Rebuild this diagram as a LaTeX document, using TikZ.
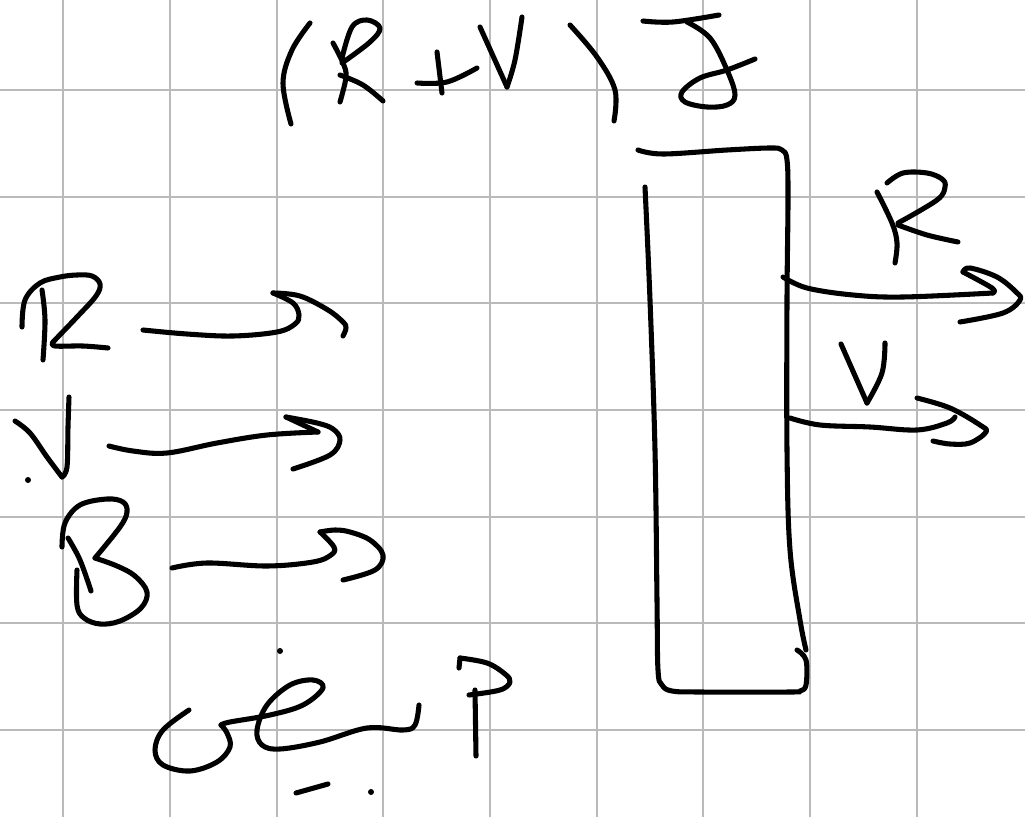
\documentclass[tikz,border=0pt]{standalone}
\begin{document}
\begin{tikzpicture}[x=0.75pt,y=-0.75pt,
  gridline/.style={draw=black!27,line width=1.8pt},
  ink/.style={draw=black,line width=3.8pt,line cap=round,line join=round,smooth,tension=0.6},
  speck/.style={fill=black,draw=none}]
\useasboundingbox (0,0) rectangle (1025,817);
\fill[white] (0,0) rectangle (1025,817);
\foreach \gx in {63,170,277,383,490,597,703,810,917} \draw[gridline] (\gx,0) -- (\gx,817);
\foreach \gy in {90,197,303,410,517,623,730} \draw[gridline] (0,\gy) -- (1025,\gy);
% left R
\draw[ink] plot coordinates {(22,327) (25,300) (40,283) (60,277) (77,275) (92,276) (100,284) (96,296) (77,317) (53,342)};
\draw[ink] plot coordinates {(53,342) (55,346) (83,346) (108,348)};
\draw[ink] plot coordinates {(42,290) (45,320) (43,360)};
% arrow R
\draw[ink] plot coordinates {(143,330) (187,334) (233,336) (277,332) (295,324) (299,315) (293,303) (273,293)};
\draw[ink] plot coordinates {(273,293) (300,296) (328,310) (343,322) (346,328) (343,336)};
% left V
\draw[ink] plot coordinates {(15,421) (30,433) (47,457) (62,477)};
\draw[ink] plot coordinates {(62,477) (67,467) (68,427) (69,397)};
\fill[speck] (28,480) circle (3);
% arrow V
\draw[ink] plot coordinates {(109,446) (133,451) (167,453) (217,443) (267,435) (318,432)};
\draw[ink] plot coordinates {(286,417) (317,423) (333,429) (340,440) (330,455) (293,469)};
\draw[ink] (286,417) -- (318,432);
% B
\draw[ink] plot coordinates {(62,547) (65,523) (80,505) (107,499) (123,502) (127,512) (120,527) (95,558)};
\draw[ink] plot coordinates {(95,558) (117,566) (135,576) (147,592) (141,608) (120,621) (100,624) (84,618) (77,605) (77,570)};
\draw[ink] plot coordinates {(68,538) (80,560) (91,591)};
% arrow B
\draw[ink] plot coordinates {(172,568) (207,563) (267,566) (313,562) (331,555) (334,547) (320,532)};
\draw[ink] plot coordinates {(320,532) (335,530) (350,532) (370,540) (383,555) (375,570) (343,580)};
% top (R+V)J
\draw[ink] plot coordinates {(310,23) (292,50) (283,83) (291,124)};
\draw[ink] plot coordinates {(333,43) (343,63) (346,77) (340,102)};
\draw[ink] plot coordinates {(342,58) (352,27) (367,20) (380,28) (370,42) (342,63)};
\draw[ink] plot coordinates {(340,75) (363,85) (383,101)};
\draw[ink] plot coordinates {(437,52) (442,93)};
\draw[ink] plot coordinates {(417,83) (447,82) (477,68)};
\draw[ink] plot coordinates {(480,27) (507,87)};
\draw[ink] plot coordinates {(507,87) (515,60) (522,17)};
\draw[ink] plot coordinates {(570,25) (597,57) (615,90) (614,121)};
\draw[ink] plot coordinates {(643,21) (673,22) (719,15)};
\draw[ink] plot coordinates {(687,22) (710,38) (727,70) (735,95) (727,105) (707,107) (685,102) (682,92) (700,78) (727,70) (755,59)};
% box
\draw[ink] plot coordinates {(638,150) (663,154) (727,150) (770,148) (782,150) (787,160) (788,200) (787,300) (787,450) (790,550) (800,620) (806,650)};
\draw[ink] plot coordinates {(797,650) (806,660) (806,685) (800,691) (790,692) (700,692) (672,691) (662,685) (658,670) (657,600) (655,450) (650,300) (645,187)};
% right R
\draw[ink] plot coordinates {(887,183) (903,173) (927,173) (942,179) (945,187) (937,200) (898,223)};
\draw[ink] plot coordinates {(898,225) (927,235) (958,242)};
\draw[ink] plot coordinates {(877,192) (892,223) (897,243) (895,263)};
% right arrow R
\draw[ink] plot coordinates {(783,277) (807,288) (853,295) (903,297) (993,293)};
\draw[ink] plot coordinates {(993,293) (992,288) (963,272)};
\draw[ink] plot coordinates {(963,272) (970,268) (997,277) (1016,292) (1020,300) (1003,313) (960,322)};
% right V
\draw[ink] plot coordinates {(841,344) (867,403)};
\draw[ink] plot coordinates {(867,403) (882,373) (885,343)};
% right arrow V
\draw[ink] plot coordinates {(790,418) (820,425) (870,427) (917,430) (947,423) (955,417)};
\draw[ink] plot coordinates {(917,398) (950,408) (980,425) (986,432) (970,443) (950,444) (933,441)};
% bottom scribble
\draw[ink] plot coordinates {(189,710) (163,730) (155,750) (163,765) (190,771) (217,762) (230,747) (227,733) (221,725)};
\draw[ink] plot coordinates {(221,725) (230,722) (270,715) (303,705) (323,688) (313,680) (290,685) (267,705) (257,730) (262,745) (280,749) (320,742) (367,728) (403,730) (415,725) (419,705)};
% P
\draw[ink] plot coordinates {(459,668) (460,658)};
\draw[ink] plot coordinates {(460,658) (487,663) (505,674) (510,682) (500,690) (469,695)};
\draw[ink] plot coordinates {(475,690) (476,756)};
% specks
\draw[ink] plot coordinates {(296,793) (328,784)};
\fill[speck] (280,651) circle (3);
\fill[speck] (371,792) circle (3);
\end{tikzpicture}
\end{document}
